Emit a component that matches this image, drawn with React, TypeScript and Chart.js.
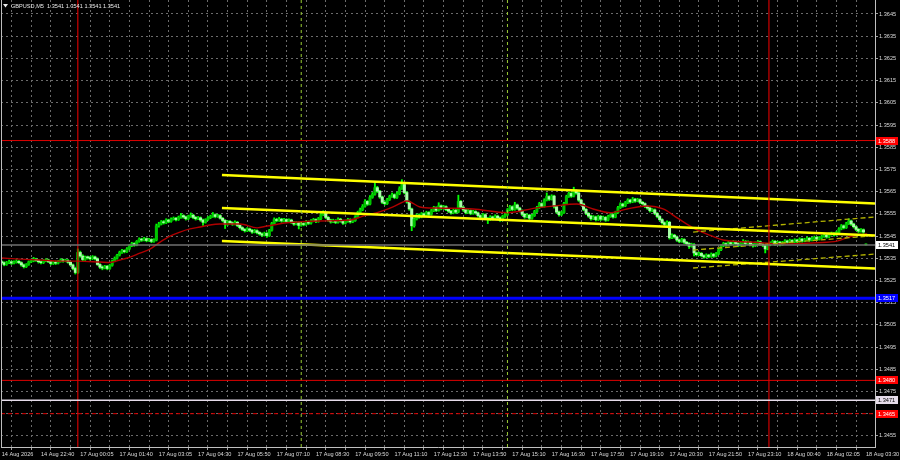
import { useEffect, useRef } from 'react';
import { Chart, registerables } from 'chart.js';

Chart.register(...registerables);

// ---------- data ----------
const symbolTitle = 'GBPUSD,M5';
const lastQuote = [1.3541, 1.3541, 1.3541, 1.3541];

const timeLabels = [
  '14 Aug 2026', '14 Aug 22:40', '17 Aug 00:05', '17 Aug 01:40', '17 Aug 03:05', '17 Aug 04:30',
  '17 Aug 05:50', '17 Aug 07:10', '17 Aug 08:30', '17 Aug 09:50', '17 Aug 11:10', '17 Aug 12:30',
  '17 Aug 13:50', '17 Aug 15:10', '17 Aug 16:30', '17 Aug 17:50', '17 Aug 19:10', '17 Aug 20:30',
  '17 Aug 21:50', '17 Aug 23:10', '18 Aug 00:40', '18 Aug 02:05', '18 Aug 03:30',
];
const priceTicks = [
  1.3455, 1.3465, 1.3475, 1.3485, 1.3495, 1.3505, 1.3515, 1.3525, 1.3535, 1.3545,
  1.3555, 1.3565, 1.3575, 1.3585, 1.3595, 1.3605, 1.3615, 1.3625, 1.3635, 1.3645,
];

const opens = [
  1.35334,1.35330,1.35322,1.35330,1.35334,1.35328,1.35332,1.35336,1.35330,1.35320,
  1.35312,1.35322,1.35334,1.35338,1.35346,1.35340,1.35334,1.35330,1.35338,1.35342,
  1.35334,1.35326,1.35332,1.35328,1.35336,1.35342,1.35338,1.35340,1.35332,1.35320,
  1.35304,1.35286,1.35376,1.35360,1.35344,1.35354,1.35352,1.35348,1.35356,1.35348,
  1.35322,1.35310,1.35306,1.35314,1.35304,1.35318,1.35338,1.35350,1.35364,1.35376,
  1.35384,1.35380,1.35392,1.35406,1.35416,1.35410,1.35426,1.35436,1.35432,1.35438,
  1.35430,1.35434,1.35426,1.35432,1.35496,1.35504,1.35514,1.35510,1.35522,1.35516,
  1.35526,1.35530,1.35524,1.35534,1.35542,1.35536,1.35528,1.35538,1.35544,1.35534,
  1.35528,1.35532,1.35522,1.35512,1.35524,1.35532,1.35538,1.35546,1.35538,1.35542,
  1.35530,1.35520,1.35502,1.35516,1.35510,1.35504,1.35512,1.35498,1.35488,1.35480,
  1.35474,1.35482,1.35476,1.35468,1.35474,1.35466,1.35460,1.35454,1.35462,1.35452,
  1.35476,1.35506,1.35524,1.35520,1.35526,1.35518,1.35524,1.35516,1.35522,1.35512,
  1.35504,1.35510,1.35498,1.35506,1.35502,1.35514,1.35508,1.35518,1.35524,1.35516,
  1.35528,1.35546,1.35554,1.35534,1.35522,1.35514,1.35520,1.35512,1.35526,1.35518,
  1.35508,1.35516,1.35524,1.35514,1.35520,1.35536,1.35556,1.35568,1.35584,1.35606,
  1.35594,1.35624,1.35638,1.35668,1.35652,1.35626,1.35602,1.35596,1.35614,1.35628,
  1.35636,1.35624,1.35640,1.35664,1.35682,1.35646,1.35604,1.35572,1.35496,1.35526,
  1.35544,1.35536,1.35550,1.35542,1.35556,1.35548,1.35564,1.35578,1.35566,1.35586,
  1.35574,1.35582,1.35570,1.35562,1.35554,1.35566,1.35558,1.35606,1.35580,1.35568,
  1.35556,1.35564,1.35552,1.35560,1.35554,1.35542,1.35534,1.35546,1.35530,1.35524,
  1.35536,1.35528,1.35540,1.35532,1.35522,1.35538,1.35546,1.35568,1.35582,1.35570,
  1.35590,1.35576,1.35564,1.35548,1.35536,1.35544,1.35530,1.35542,1.35560,1.35578,
  1.35596,1.35584,1.35612,1.35628,1.35616,1.35630,1.35582,1.35558,1.35546,1.35556,
  1.35596,1.35628,1.35642,1.35630,1.35654,1.35644,1.35612,1.35594,1.35570,1.35552,
  1.35540,1.35528,1.35536,1.35524,1.35538,1.35526,1.35534,1.35522,1.35538,1.35546,
  1.35536,1.35556,1.35578,1.35594,1.35586,1.35600,1.35612,1.35604,1.35616,1.35608,
  1.35614,1.35602,1.35596,1.35584,1.35576,1.35564,1.35568,1.35552,1.35538,1.35524,
  1.35510,1.35502,1.35512,1.35442,1.35454,1.35446,1.35432,1.35426,1.35434,1.35422,
  1.35416,1.35404,1.35412,1.35374,1.35366,1.35372,1.35362,1.35356,1.35364,1.35358,
  1.35368,1.35360,1.35370,1.35388,1.35406,1.35416,1.35410,1.35420,1.35414,1.35424,
  1.35416,1.35408,1.35418,1.35426,1.35416,1.35422,1.35412,1.35406,1.35418,1.35424,
  1.35414,1.35408,1.35392,1.35410,1.35418,1.35426,1.35414,1.35422,1.35412,1.35420,
  1.35428,1.35422,1.35430,1.35424,1.35432,1.35426,1.35436,1.35428,1.35434,1.35440,
  1.35432,1.35438,1.35444,1.35436,1.35442,1.35448,1.35454,1.35446,1.35458,1.35462,
  1.35456,1.35466,1.35482,1.35496,1.35488,1.35506,1.35518,1.35504,1.35492,1.35480,
  1.35472,1.35478,1.35410,
];
const highs = [
  1.35340,1.35334,1.35336,1.35342,1.35338,1.35338,1.35344,1.35340,1.35334,1.35324,
  1.35326,1.35338,1.35346,1.35354,1.35350,1.35344,1.35338,1.35344,1.35348,1.35346,
  1.35338,1.35336,1.35338,1.35340,1.35348,1.35346,1.35346,1.35344,1.35336,1.35324,
  1.35310,1.35392,1.35382,1.35366,1.35360,1.35360,1.35358,1.35362,1.35360,1.35352,
  1.35326,1.35316,1.35318,1.35318,1.35322,1.35342,1.35356,1.35368,1.35382,1.35390,
  1.35388,1.35398,1.35412,1.35422,1.35420,1.35430,1.35442,1.35440,1.35444,1.35442,
  1.35440,1.35438,1.35438,1.35504,1.35512,1.35520,1.35520,1.35528,1.35526,1.35532,
  1.35536,1.35534,1.35540,1.35552,1.35546,1.35540,1.35544,1.35554,1.35548,1.35538,
  1.35538,1.35536,1.35526,1.35528,1.35538,1.35544,1.35556,1.35550,1.35548,1.35546,
  1.35534,1.35524,1.35520,1.35520,1.35514,1.35518,1.35516,1.35502,1.35492,1.35484,
  1.35488,1.35486,1.35480,1.35480,1.35478,1.35470,1.35464,1.35468,1.35466,1.35480,
  1.35512,1.35532,1.35530,1.35534,1.35530,1.35530,1.35528,1.35528,1.35526,1.35516,
  1.35516,1.35514,1.35512,1.35510,1.35520,1.35518,1.35524,1.35530,1.35528,1.35534,
  1.35552,1.35564,1.35558,1.35538,1.35526,1.35526,1.35524,1.35532,1.35530,1.35522,
  1.35522,1.35530,1.35528,1.35526,1.35542,1.35562,1.35576,1.35592,1.35614,1.35610,
  1.35632,1.35646,1.35696,1.35674,1.35656,1.35630,1.35608,1.35620,1.35634,1.35644,
  1.35640,1.35648,1.35672,1.35704,1.35688,1.35650,1.35608,1.35576,1.35532,1.35550,
  1.35550,1.35556,1.35554,1.35562,1.35560,1.35570,1.35584,1.35582,1.35600,1.35590,
  1.35588,1.35586,1.35574,1.35566,1.35572,1.35570,1.35634,1.35610,1.35584,1.35572,
  1.35570,1.35568,1.35566,1.35564,1.35558,1.35546,1.35552,1.35550,1.35534,1.35542,
  1.35540,1.35546,1.35544,1.35536,1.35544,1.35552,1.35574,1.35588,1.35586,1.35602,
  1.35594,1.35580,1.35568,1.35552,1.35550,1.35548,1.35548,1.35566,1.35584,1.35602,
  1.35600,1.35618,1.35644,1.35632,1.35636,1.35634,1.35586,1.35562,1.35562,1.35602,
  1.35634,1.35648,1.35646,1.35670,1.35658,1.35648,1.35616,1.35598,1.35574,1.35556,
  1.35544,1.35542,1.35540,1.35544,1.35542,1.35540,1.35538,1.35544,1.35552,1.35550,
  1.35562,1.35584,1.35600,1.35598,1.35606,1.35618,1.35616,1.35624,1.35620,1.35620,
  1.35618,1.35606,1.35600,1.35588,1.35580,1.35574,1.35572,1.35556,1.35542,1.35528,
  1.35514,1.35518,1.35516,1.35460,1.35458,1.35450,1.35436,1.35440,1.35438,1.35426,
  1.35420,1.35418,1.35416,1.35378,1.35378,1.35376,1.35366,1.35370,1.35368,1.35374,
  1.35372,1.35376,1.35394,1.35412,1.35422,1.35420,1.35426,1.35424,1.35430,1.35428,
  1.35420,1.35424,1.35434,1.35430,1.35428,1.35426,1.35416,1.35424,1.35430,1.35428,
  1.35418,1.35412,1.35416,1.35424,1.35432,1.35430,1.35428,1.35426,1.35426,1.35434,
  1.35432,1.35436,1.35434,1.35438,1.35436,1.35442,1.35440,1.35440,1.35446,1.35444,
  1.35444,1.35450,1.35448,1.35448,1.35454,1.35460,1.35458,1.35464,1.35468,1.35466,
  1.35472,1.35488,1.35502,1.35500,1.35512,1.35528,1.35522,1.35508,1.35496,1.35484,
  1.35484,1.35482,1.35410,
];
const lows = [
  1.35324,1.35316,1.35318,1.35326,1.35322,1.35324,1.35328,1.35326,1.35314,1.35306,
  1.35308,1.35318,1.35330,1.35334,1.35336,1.35328,1.35324,1.35326,1.35334,1.35330,
  1.35320,1.35322,1.35322,1.35324,1.35332,1.35332,1.35334,1.35328,1.35316,1.35298,
  1.35279,1.35282,1.35354,1.35338,1.35340,1.35346,1.35342,1.35344,1.35342,1.35318,
  1.35304,1.35298,1.35302,1.35298,1.35300,1.35314,1.35334,1.35346,1.35360,1.35372,
  1.35374,1.35376,1.35388,1.35402,1.35404,1.35406,1.35422,1.35426,1.35428,1.35424,
  1.35426,1.35420,1.35422,1.35428,1.35490,1.35500,1.35504,1.35506,1.35510,1.35512,
  1.35522,1.35518,1.35520,1.35530,1.35530,1.35522,1.35524,1.35534,1.35528,1.35522,
  1.35524,1.35516,1.35498,1.35508,1.35520,1.35528,1.35534,1.35532,1.35534,1.35526,
  1.35514,1.35484,1.35498,1.35504,1.35498,1.35500,1.35492,1.35482,1.35474,1.35468,
  1.35470,1.35470,1.35462,1.35464,1.35460,1.35454,1.35448,1.35450,1.35444,1.35448,
  1.35472,1.35502,1.35514,1.35516,1.35512,1.35514,1.35510,1.35512,1.35506,1.35498,
  1.35500,1.35482,1.35494,1.35496,1.35498,1.35502,1.35504,1.35514,1.35510,1.35512,
  1.35524,1.35542,1.35528,1.35516,1.35508,1.35510,1.35506,1.35508,1.35512,1.35502,
  1.35504,1.35512,1.35508,1.35510,1.35516,1.35532,1.35552,1.35564,1.35580,1.35588,
  1.35590,1.35620,1.35634,1.35646,1.35620,1.35596,1.35590,1.35592,1.35610,1.35624,
  1.35618,1.35620,1.35636,1.35660,1.35640,1.35598,1.35566,1.35474,1.35490,1.35522,
  1.35530,1.35532,1.35536,1.35538,1.35542,1.35544,1.35560,1.35560,1.35562,1.35568,
  1.35570,1.35564,1.35556,1.35548,1.35550,1.35552,1.35554,1.35574,1.35562,1.35550,
  1.35552,1.35546,1.35548,1.35548,1.35536,1.35528,1.35530,1.35524,1.35506,1.35520,
  1.35522,1.35524,1.35526,1.35516,1.35518,1.35534,1.35542,1.35564,1.35564,1.35566,
  1.35570,1.35558,1.35542,1.35530,1.35532,1.35524,1.35526,1.35538,1.35556,1.35574,
  1.35578,1.35580,1.35608,1.35610,1.35612,1.35576,1.35552,1.35540,1.35542,1.35552,
  1.35592,1.35624,1.35624,1.35626,1.35638,1.35606,1.35588,1.35564,1.35546,1.35534,
  1.35522,1.35524,1.35518,1.35520,1.35520,1.35522,1.35516,1.35518,1.35534,1.35530,
  1.35532,1.35552,1.35574,1.35580,1.35582,1.35596,1.35598,1.35600,1.35602,1.35604,
  1.35596,1.35590,1.35578,1.35570,1.35558,1.35560,1.35546,1.35532,1.35518,1.35504,
  1.35496,1.35498,1.35436,1.35438,1.35440,1.35426,1.35420,1.35422,1.35416,1.35410,
  1.35394,1.35400,1.35360,1.35360,1.35362,1.35356,1.35350,1.35352,1.35352,1.35354,
  1.35354,1.35356,1.35366,1.35384,1.35402,1.35404,1.35406,1.35408,1.35410,1.35410,
  1.35402,1.35404,1.35414,1.35410,1.35412,1.35406,1.35400,1.35402,1.35414,1.35408,
  1.35402,1.35374,1.35388,1.35406,1.35414,1.35408,1.35410,1.35406,1.35408,1.35416,
  1.35416,1.35418,1.35418,1.35420,1.35420,1.35422,1.35422,1.35424,1.35430,1.35426,
  1.35428,1.35434,1.35430,1.35432,1.35438,1.35444,1.35440,1.35442,1.35454,1.35450,
  1.35452,1.35462,1.35478,1.35482,1.35484,1.35502,1.35498,1.35486,1.35474,1.35466,
  1.35468,1.35462,1.35410,
];
const closes = [
  1.35330,1.35322,1.35330,1.35334,1.35328,1.35332,1.35336,1.35330,1.35320,1.35312,
  1.35322,1.35334,1.35338,1.35346,1.35340,1.35334,1.35330,1.35338,1.35342,1.35334,
  1.35326,1.35332,1.35328,1.35336,1.35342,1.35338,1.35340,1.35332,1.35320,1.35304,
  1.35286,1.35376,1.35360,1.35344,1.35354,1.35352,1.35348,1.35356,1.35348,1.35322,
  1.35310,1.35306,1.35314,1.35304,1.35318,1.35338,1.35350,1.35364,1.35376,1.35384,
  1.35380,1.35392,1.35406,1.35416,1.35410,1.35426,1.35436,1.35432,1.35438,1.35430,
  1.35434,1.35426,1.35432,1.35496,1.35504,1.35514,1.35510,1.35522,1.35516,1.35526,
  1.35530,1.35524,1.35534,1.35542,1.35536,1.35528,1.35538,1.35544,1.35534,1.35528,
  1.35532,1.35522,1.35512,1.35524,1.35532,1.35538,1.35546,1.35538,1.35542,1.35530,
  1.35520,1.35502,1.35516,1.35510,1.35504,1.35512,1.35498,1.35488,1.35480,1.35474,
  1.35482,1.35476,1.35468,1.35474,1.35466,1.35460,1.35454,1.35462,1.35452,1.35476,
  1.35506,1.35524,1.35520,1.35526,1.35518,1.35524,1.35516,1.35522,1.35512,1.35504,
  1.35510,1.35498,1.35506,1.35502,1.35514,1.35508,1.35518,1.35524,1.35516,1.35528,
  1.35546,1.35554,1.35534,1.35522,1.35514,1.35520,1.35512,1.35526,1.35518,1.35508,
  1.35516,1.35524,1.35514,1.35520,1.35536,1.35556,1.35568,1.35584,1.35606,1.35594,
  1.35624,1.35638,1.35668,1.35652,1.35626,1.35602,1.35596,1.35614,1.35628,1.35636,
  1.35624,1.35640,1.35664,1.35682,1.35646,1.35604,1.35572,1.35496,1.35526,1.35544,
  1.35536,1.35550,1.35542,1.35556,1.35548,1.35564,1.35578,1.35566,1.35586,1.35574,
  1.35582,1.35570,1.35562,1.35554,1.35566,1.35558,1.35606,1.35580,1.35568,1.35556,
  1.35564,1.35552,1.35560,1.35554,1.35542,1.35534,1.35546,1.35530,1.35524,1.35536,
  1.35528,1.35540,1.35532,1.35522,1.35538,1.35546,1.35568,1.35582,1.35570,1.35590,
  1.35576,1.35564,1.35548,1.35536,1.35544,1.35530,1.35542,1.35560,1.35578,1.35596,
  1.35584,1.35612,1.35628,1.35616,1.35630,1.35582,1.35558,1.35546,1.35556,1.35596,
  1.35628,1.35642,1.35630,1.35654,1.35644,1.35612,1.35594,1.35570,1.35552,1.35540,
  1.35528,1.35536,1.35524,1.35538,1.35526,1.35534,1.35522,1.35538,1.35546,1.35536,
  1.35556,1.35578,1.35594,1.35586,1.35600,1.35612,1.35604,1.35616,1.35608,1.35614,
  1.35602,1.35596,1.35584,1.35576,1.35564,1.35568,1.35552,1.35538,1.35524,1.35510,
  1.35502,1.35512,1.35442,1.35454,1.35446,1.35432,1.35426,1.35434,1.35422,1.35416,
  1.35404,1.35412,1.35374,1.35366,1.35372,1.35362,1.35356,1.35364,1.35358,1.35368,
  1.35360,1.35370,1.35388,1.35406,1.35416,1.35410,1.35420,1.35414,1.35424,1.35416,
  1.35408,1.35418,1.35426,1.35416,1.35422,1.35412,1.35406,1.35418,1.35424,1.35414,
  1.35408,1.35392,1.35410,1.35418,1.35426,1.35414,1.35422,1.35412,1.35420,1.35428,
  1.35422,1.35430,1.35424,1.35432,1.35426,1.35436,1.35428,1.35434,1.35440,1.35432,
  1.35438,1.35444,1.35436,1.35442,1.35448,1.35454,1.35446,1.35458,1.35462,1.35456,
  1.35466,1.35482,1.35496,1.35488,1.35506,1.35518,1.35504,1.35492,1.35480,1.35472,
  1.35478,1.35468,1.35410,
];

// moving average (read at sample bars)
const maBars = [0,7.5,15.6,23.7,31.1,40,44.1,48.2,52.3,56.3,60.4,64.5,68.6,72.6,76.7,80.8,84.8,88.9,97.1,104,
  108.1,116.2,129.7,141.9,147.2,152.9,159.4,165.1,170.4,177.3,192,205.8,218,224.6,234.3,240.9,247.8,254.7,262.9,269.4,
  275.1,281.6,287.3,293.8,304.8,318.3,332.1,340.2,345.5,352.5];
const maValues = [1.35351,1.35346,1.35342,1.35337,1.35337,1.35333,1.35331,1.35342,1.35355,1.35373,1.35391,1.35423,1.35450,1.35468,1.35482,1.35491,1.35500,1.35504,1.35504,1.35487,
  1.35495,1.35510,1.35518,1.35522,1.35540,1.35555,1.35581,1.35608,1.35581,1.35576,1.35572,1.35555,1.35577,1.35585,1.35594,1.35572,1.35555,1.35572,1.35585,1.35572,
  1.35532,1.35487,1.35459,1.35432,1.35423,1.35414,1.35420,1.35427,1.35447,1.35459];

// channel (start bar, end bar) and prices at both ends
const channelBars = [89.7, 355.7];
const channelUpper = [1.35725, 1.35597];
const channelMiddle = [1.35576, 1.35452];
const channelLower = [1.35428, 1.35304];
const dashedBars = [281.6, 355.7];
const dashedUpper = [1.35468, 1.35536];
const dashedMiddle = [1.35387, 1.35452];
const dashedLower = [1.35306, 1.35369];

const levelPrices = [1.3588, 1.3517, 1.3480, 1.3471, 1.3465];
const bidPrice = 1.3541;
const daySeparatorBars = [31, 312.5];
const sessionBars = [122, 206];

// ---------- styles ----------
const FONT = '"Liberation Sans", Arial, sans-serif';
const FS = 5.6;
const TEXT = '#dcdcdc';
const GRID = '#6b6b6b';
const X_MIN = -0.285;
const X_MAX = 355.7;
const Y_MIN = 1.345;
const Y_MAX = 1.36513;
const levelColors = ['#e00000', '#0000ff', '#e00000', '#e6dcea', '#e00000'];
const levelWidths = [1, 3, 1, 1.5, 1];
const levelDash = [[], [], [], [], [4, 3]];
const tagFill = ['#ff0000', '#0000ff', '#ff0000', '#e6dcea', '#ff0000', '#ffffff'];
const tagText = ['#ffffff', '#ffffff', '#ffffff', '#000000', '#ffffff', '#000000'];

export default function App() {
  const ref = useRef<HTMLCanvasElement | null>(null);

  useEffect(() => {
    document.body.style.margin = '0';
    document.body.style.background = '#000';
    const canvas = ref.current;
    if (!canvas) return;

    const idx = closes.map((_, i) => i);
    const wickData = idx.map((i) => ({ x: i, y: [lows[i], highs[i]] }));
    const bodyData = idx.map((i) => ({ x: i, y: [opens[i], closes[i]] }));
    const bodyColors = idx.map((i) => (closes[i] >= opens[i] ? '#00c400' : '#a8ffa8'));

    const seg = (xs: number[], ys: number[]) => [{ x: xs[0], y: ys[0] }, { x: xs[1], y: ys[1] }];
    const hLine = (p: number) => [{ x: X_MIN, y: p }, { x: X_MAX, y: p }];
    const vLine = (b: number) => [{ x: b, y: Y_MIN }, { x: b, y: Y_MAX }];

    const lineBase = { type: 'line', pointRadius: 0, fill: false, order: 0, tension: 0 } as any;

    const datasets: any[] = [
      { type: 'bar', label: 'wicks', data: wickData, backgroundColor: '#00ff00', barThickness: 1.2, grouped: false, minBarLength: 1, order: 3 },
      { type: 'bar', label: 'bodies', data: bodyData, backgroundColor: bodyColors, barThickness: 2.4, grouped: false, minBarLength: 1, order: 2 },
      { ...lineBase, label: 'ma', data: maBars.map((b, k) => ({ x: b, y: maValues[k] })), borderColor: '#b00000', borderWidth: 1.4, order: 1, cubicInterpolationMode: 'monotone' },
      ...levelPrices.map((p, k) => ({ ...lineBase, label: 'lvl' + k, data: hLine(p), borderColor: levelColors[k], borderWidth: levelWidths[k], borderDash: levelDash[k] })),
      { ...lineBase, label: 'bid', data: hLine(bidPrice), borderColor: '#707070', borderWidth: 1.6 },
      ...daySeparatorBars.map((b) => ({ ...lineBase, label: 'day', data: vLine(b), borderColor: '#d00000', borderWidth: 1.2 })),
      ...sessionBars.map((b) => ({ ...lineBase, label: 'sess', data: vLine(b), borderColor: '#9acd32', borderWidth: 1, borderDash: [3, 3] })),
      { ...lineBase, label: 'chU', data: seg(channelBars, channelUpper), borderColor: '#ffff00', borderWidth: 2.5 },
      { ...lineBase, label: 'chM', data: seg(channelBars, channelMiddle), borderColor: '#ffff00', borderWidth: 2.5 },
      { ...lineBase, label: 'chL', data: seg(channelBars, channelLower), borderColor: '#ffff00', borderWidth: 2.5 },
      { ...lineBase, label: 'dU', data: seg(dashedBars, dashedUpper), borderColor: '#b4b400', borderWidth: 1.3, borderDash: [5, 3] },
      { ...lineBase, label: 'dM', data: seg(dashedBars, dashedMiddle), borderColor: '#b4b400', borderWidth: 1.3, borderDash: [5, 3] },
      { ...lineBase, label: 'dL', data: seg(dashedBars, dashedLower), borderColor: '#b4b400', borderWidth: 1.3, borderDash: [5, 3] },
    ];

    const gridBars: number[] = [];
    for (let k = 0; k < timeLabels.length * 2 - 1; k++) gridBars.push(k * 8);

    const overlay = {
      id: 'mtOverlay',
      beforeDraw(chart: any) {
        const c = chart.ctx;
        c.save();
        c.fillStyle = '#000000';
        c.fillRect(0, 0, chart.width, chart.height);
        c.restore();
      },
      afterDraw(chart: any) {
        const c = chart.ctx;
        const area = chart.chartArea;
        const ys = chart.scales.y;
        c.save();
        c.strokeStyle = '#bdbdbd';
        c.lineWidth = 1;
        c.beginPath();
        c.moveTo(area.left + 0.5, area.top);
        c.lineTo(area.left + 0.5, area.bottom);
        c.stroke();
        c.font = `${FS}px ${FONT}`;
        c.textBaseline = 'middle';
        c.textAlign = 'left';
        const tags = [...levelPrices, bidPrice];
        tags.forEach((p, k) => {
          const py = ys.getPixelForValue(p);
          c.fillStyle = tagFill[k];
          c.fillRect(area.right + 1, Math.round(py) - 4, 22, 8);
          c.fillStyle = tagText[k];
          c.fillText(p.toFixed(4), area.right + 3, py + 0.5);
        });
        // title
        c.fillStyle = '#e8e8e8';
        c.beginPath();
        c.moveTo(3, 4);
        c.lineTo(8, 4);
        c.lineTo(5.5, 7.5);
        c.closePath();
        c.fill();
        c.fillText(`${symbolTitle}  ${lastQuote.map((v) => v.toFixed(4)).join(' ')}`, 11, 6);
        c.restore();
      },
    };

    const chart = new Chart(canvas, {
      type: 'bar',
      data: { datasets },
      plugins: [overlay],
      options: {
        responsive: false,
        animation: false,
        devicePixelRatio: 1,
        events: [],
        layout: { padding: { left: 1, top: 0, right: 0, bottom: 0 } },
        plugins: { legend: { display: false }, tooltip: { enabled: false }, title: { display: false } },
        scales: {
          x: {
            type: 'linear',
            min: X_MIN,
            max: X_MAX,
            offset: false,
            position: 'bottom',
            afterBuildTicks: (s: any) => { s.ticks = gridBars.map((v) => ({ value: v })); },
            afterFit: (s: any) => { s.height = 13; s.paddingLeft = 0; s.paddingRight = 0; },
            ticks: {
              autoSkip: false, maxRotation: 0, minRotation: 0, align: 'start', padding: 1,
              color: TEXT, font: { family: FONT, size: FS },
              callback: (_v: any, i: number) => (i % 2 === 0 ? timeLabels[i / 2] ?? '' : ''),
            },
            grid: { color: GRID, lineWidth: 1, drawTicks: true, tickLength: 3, tickColor: '#a0a0a0', tickBorderDash: [] },
            border: { display: true, color: '#c0c0c0', width: 1, dash: [2, 3] },
          },
          y: {
            type: 'linear',
            position: 'right',
            min: Y_MIN,
            max: Y_MAX,
            afterBuildTicks: (s: any) => { s.ticks = priceTicks.map((v) => ({ value: v })); },
            afterFit: (s: any) => { s.width = 25; s.paddingTop = 0; s.paddingBottom = 0; },
            ticks: { padding: 1, color: TEXT, font: { family: FONT, size: FS }, callback: (v: any) => Number(v).toFixed(4) },
            grid: { color: GRID, lineWidth: 1, drawTicks: true, tickLength: 3, tickColor: '#a0a0a0', tickBorderDash: [] },
            border: { display: true, color: '#c0c0c0', width: 1, dash: [2, 3] },
          },
        },
      } as any,
    });
    return () => chart.destroy();
  }, []);

  return (
    <div style={{ position: 'relative', width: 900, height: 460, background: '#000' }}>
      <canvas ref={ref} width={900} height={460} style={{ display: 'block', width: 900, height: 460 }} />
    </div>
  );
}
